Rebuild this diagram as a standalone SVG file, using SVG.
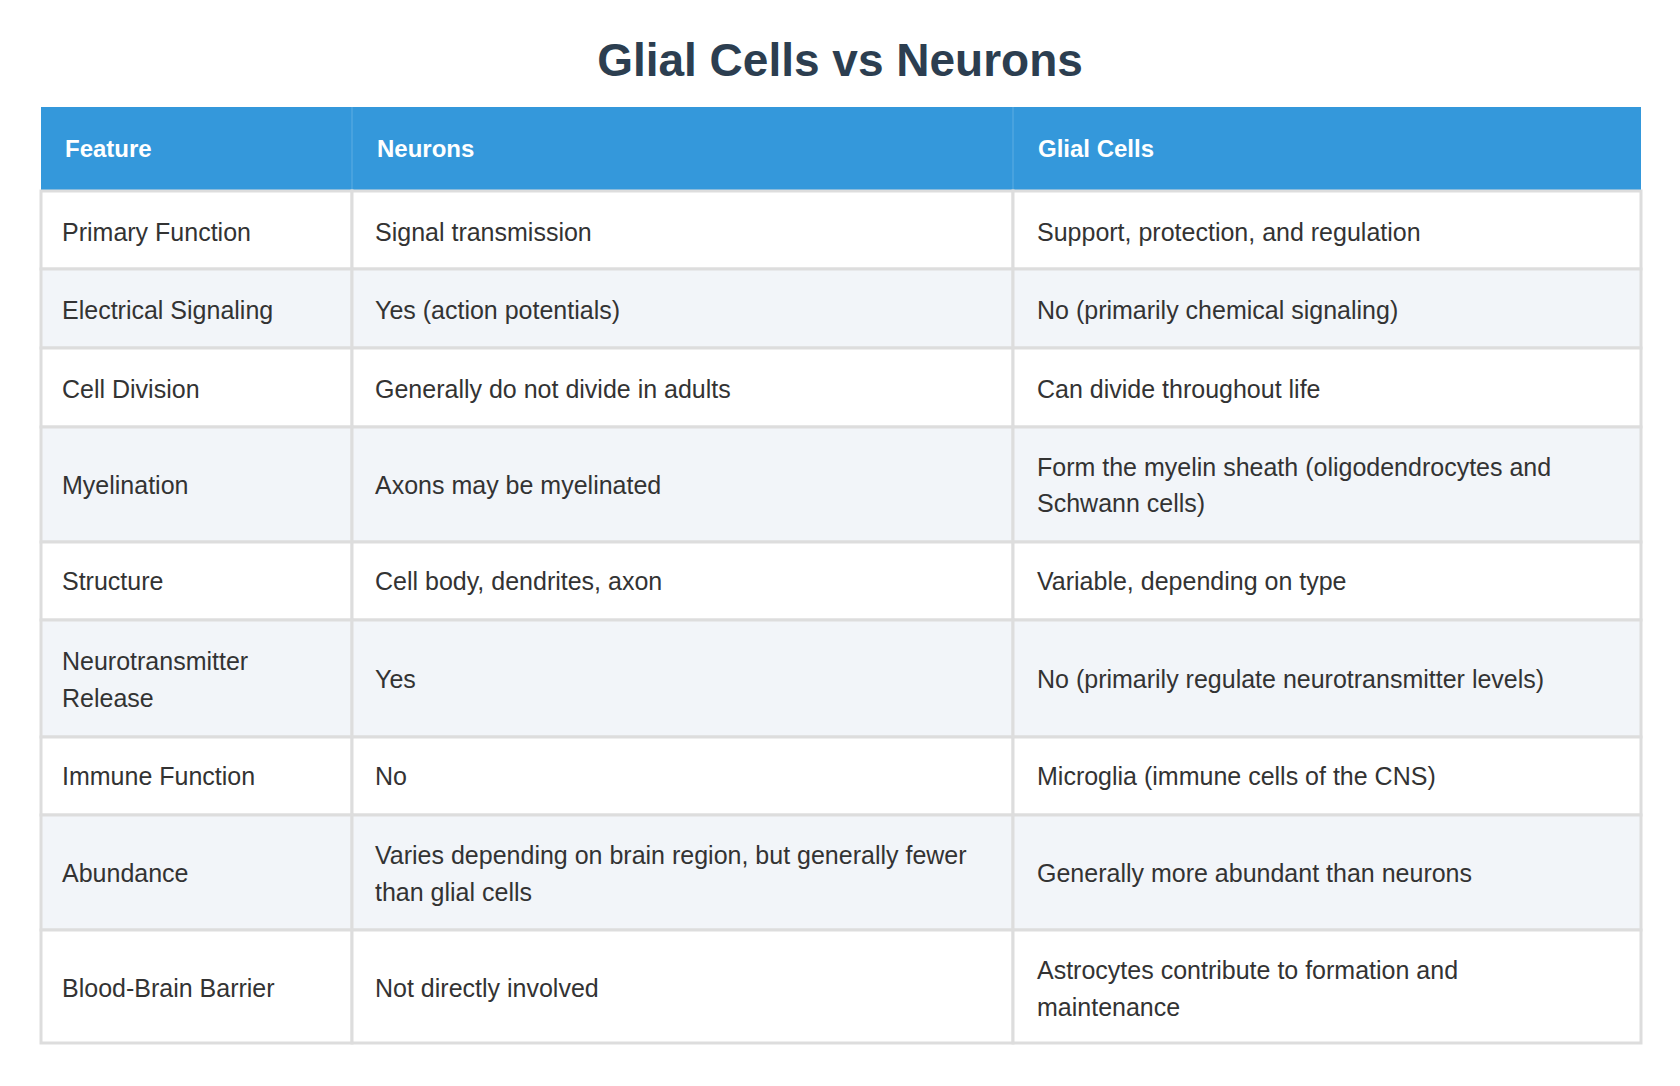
<svg xmlns="http://www.w3.org/2000/svg" width="1680" height="1086" viewBox="0 0 1680 1086">
<style>
.t{font-family:"Liberation Sans",Arial,sans-serif;font-size:25px;fill:#333}
.h{font-family:"Liberation Sans",Arial,sans-serif;font-size:24px;font-weight:bold;fill:#fff}
.title{font-family:"Liberation Sans",Arial,sans-serif;font-size:46px;font-weight:bold;fill:#2c3e50}
.c{stroke:#dddddd;stroke-width:3}
.odd{fill:#ffffff}.even{fill:#f2f5f9}
</style>
<rect width="1680" height="1086" fill="#fff"/>
<text class="title" x="840" y="76" text-anchor="middle">Glial Cells vs Neurons</text>
<g id="header">
<rect x="41" y="107" width="1600" height="84" fill="#3498db"/>
<line x1="352" y1="107" x2="352" y2="191" stroke="#5dade2" stroke-width="1"/>
<line x1="1013" y1="107" x2="1013" y2="191" stroke="#5dade2" stroke-width="1"/>
<text class="h" x="65" y="157">Feature</text>
<text class="h" x="377" y="157">Neurons</text>
<text class="h" x="1038" y="157">Glial Cells</text>
</g>
<g id="rows">
<rect class="odd c" x="41" y="191" width="311" height="78"/><rect class="odd c" x="352" y="191" width="661" height="78"/><rect class="odd c" x="1013" y="191" width="628" height="78"/>
<rect class="even c" x="41" y="269" width="311" height="79"/><rect class="even c" x="352" y="269" width="661" height="79"/><rect class="even c" x="1013" y="269" width="628" height="79"/>
<rect class="odd c" x="41" y="348" width="311" height="79"/><rect class="odd c" x="352" y="348" width="661" height="79"/><rect class="odd c" x="1013" y="348" width="628" height="79"/>
<rect class="even c" x="41" y="427" width="311" height="115"/><rect class="even c" x="352" y="427" width="661" height="115"/><rect class="even c" x="1013" y="427" width="628" height="115"/>
<rect class="odd c" x="41" y="542" width="311" height="78"/><rect class="odd c" x="352" y="542" width="661" height="78"/><rect class="odd c" x="1013" y="542" width="628" height="78"/>
<rect class="even c" x="41" y="620" width="311" height="117"/><rect class="even c" x="352" y="620" width="661" height="117"/><rect class="even c" x="1013" y="620" width="628" height="117"/>
<rect class="odd c" x="41" y="737" width="311" height="78"/><rect class="odd c" x="352" y="737" width="661" height="78"/><rect class="odd c" x="1013" y="737" width="628" height="78"/>
<rect class="even c" x="41" y="815" width="311" height="115"/><rect class="even c" x="352" y="815" width="661" height="115"/><rect class="even c" x="1013" y="815" width="628" height="115"/>
<rect class="odd c" x="41" y="930" width="311" height="113"/><rect class="odd c" x="352" y="930" width="661" height="113"/><rect class="odd c" x="1013" y="930" width="628" height="113"/>
</g>
<g id="text">
<text class="t" x="62" y="241">Primary Function</text><text class="t" x="375" y="241">Signal transmission</text><text class="t" x="1037" y="241">Support, protection, and regulation</text>
<text class="t" x="62" y="319">Electrical Signaling</text><text class="t" x="375" y="319">Yes (action potentials)</text><text class="t" x="1037" y="319">No (primarily chemical signaling)</text>
<text class="t" x="62" y="398">Cell Division</text><text class="t" x="375" y="398">Generally do not divide in adults</text><text class="t" x="1037" y="398">Can divide throughout life</text>
<text class="t" x="62" y="494">Myelination</text><text class="t" x="375" y="494">Axons may be myelinated</text><text class="t" x="1037" y="476">Form the myelin sheath (oligodendrocytes and</text><text class="t" x="1037" y="512">Schwann cells)</text>
<text class="t" x="62" y="590">Structure</text><text class="t" x="375" y="590">Cell body, dendrites, axon</text><text class="t" x="1037" y="590">Variable, depending on type</text>
<text class="t" x="62" y="670">Neurotransmitter</text><text class="t" x="62" y="707">Release</text><text class="t" x="375" y="688">Yes</text><text class="t" x="1037" y="688">No (primarily regulate neurotransmitter levels)</text>
<text class="t" x="62" y="785">Immune Function</text><text class="t" x="375" y="785">No</text><text class="t" x="1037" y="785">Microglia (immune cells of the CNS)</text>
<text class="t" x="62" y="882">Abundance</text><text class="t" x="375" y="864">Varies depending on brain region, but generally fewer</text><text class="t" x="375" y="901">than glial cells</text><text class="t" x="1037" y="882">Generally more abundant than neurons</text>
<text class="t" x="62" y="997">Blood-Brain Barrier</text><text class="t" x="375" y="997">Not directly involved</text><text class="t" x="1037" y="979">Astrocytes contribute to formation and</text><text class="t" x="1037" y="1016">maintenance</text>
</g>
</svg>
